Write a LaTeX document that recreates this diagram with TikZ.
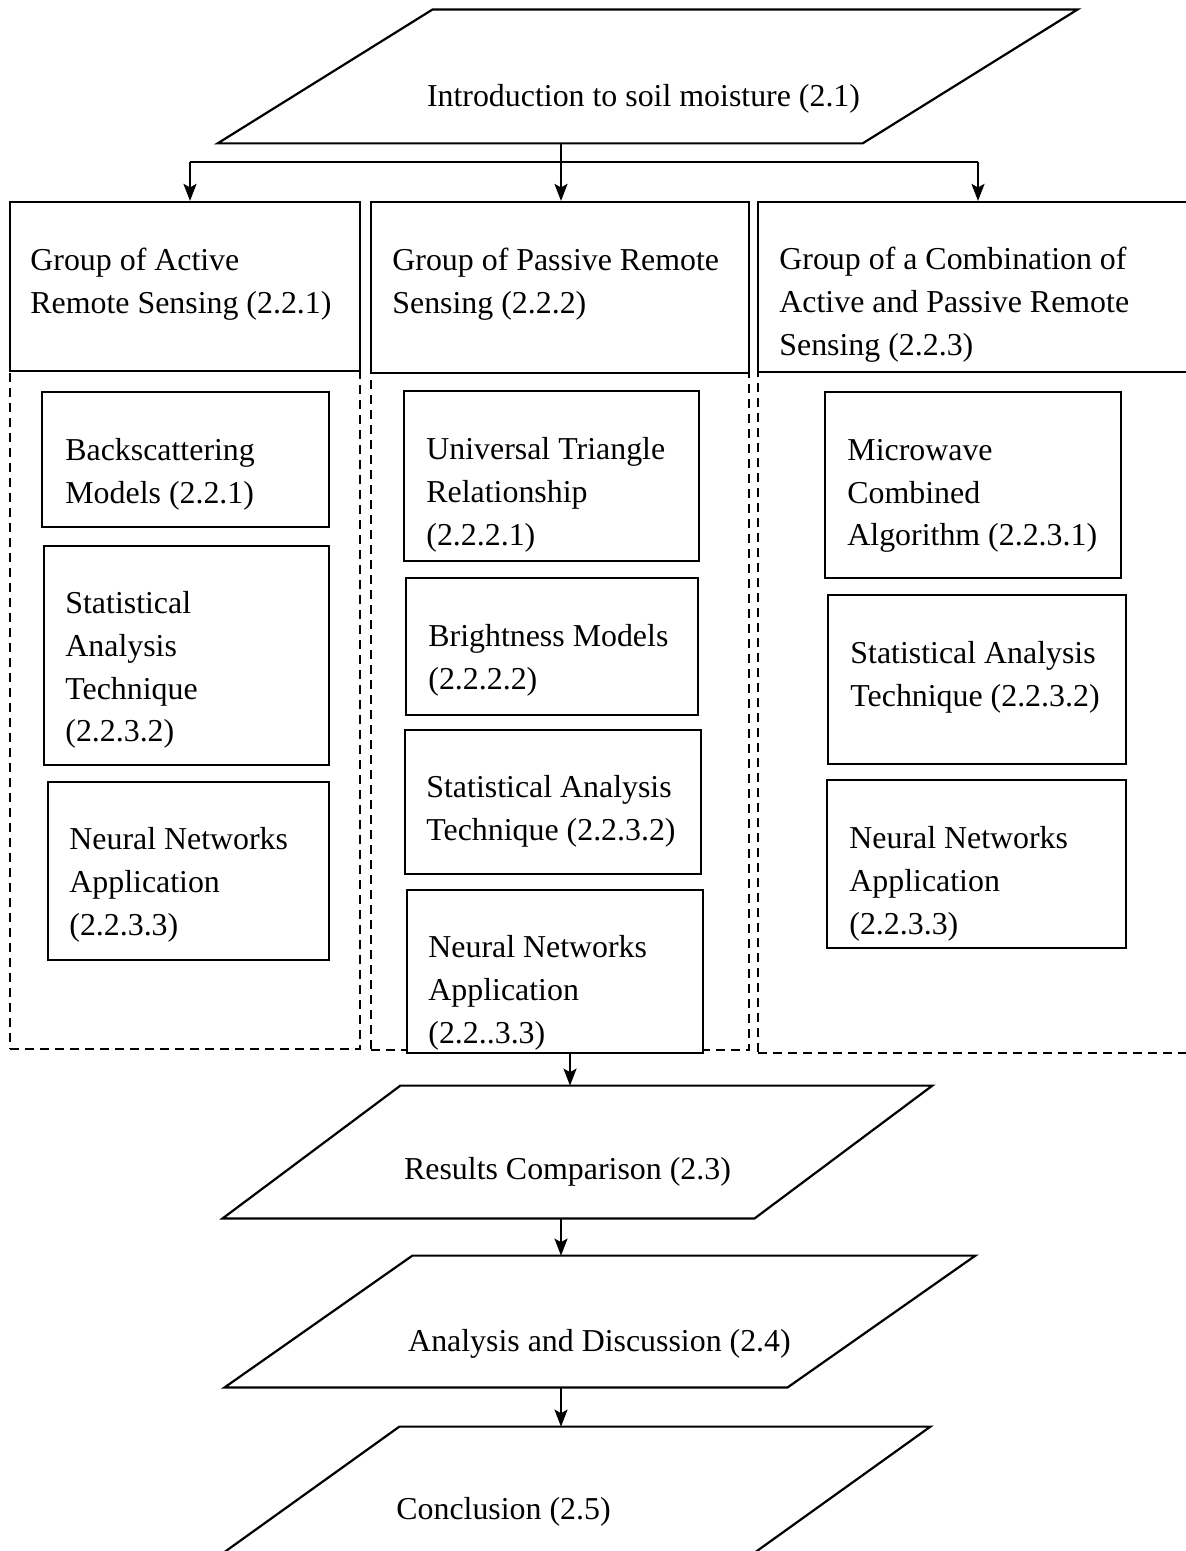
\documentclass[tikz,border=0pt]{standalone}
\usepackage{fontspec}
\setmainfont{Liberation Serif}
\usetikzlibrary{fit,arrows.meta}
\tikzset{
  pline/.style={line width=1.1pt, line join=miter},
  grp/.style={draw, line width=1.1pt, inner sep=0pt},
  dbox/.style={draw, line width=1.1pt, dash pattern=on 4.5pt off 3pt, inner sep=0pt},
  box/.style={draw, line width=1.1pt, fill=white, inner sep=0pt},
  para/.style={inner sep=0pt},
  txt/.style={anchor=west, align=left, inner sep=0pt, yshift=-2pt, font=\fontsize{15.94pt}{21.4pt}\selectfont},
  ctxt/.style={anchor=center, inner sep=0pt, yshift=-2pt, font=\fontsize{15.94pt}{21.4pt}\selectfont},
  arr/.style={line width=1.1pt, -{Stealth[length=8.5pt, width=6.5pt, inset=1.8pt]}},
}
\begin{document}
\begin{tikzpicture}[x=0.5pt, y=-0.5pt]
\useasboundingbox (0,0) rectangle (1186,1551);
\fill[white] (0,0) rectangle (1186,1551);

% top parallelogram
\node[para, fit={(218,10) (1077,143)}] (intro) {};
\draw[pline] (intro.south west) -- ++(645,0) -- (intro.north east) -- ++(-645,0) -- cycle;
\node[ctxt] (introt) at (643.5,95) {Introduction to soil moisture (2.1)};

% group header boxes
\node[grp, fit={(10,202) (360,371)}] (g1) {};
\node[grp, fit={(371,202) (749,373)}] (g2) {};
\node[grp, fit={(758,202) (1192,372)}] (g3) {};
\node[txt] (g1t) at (30,280.5) {Group of Active\\Remote Sensing (2.2.1)};
\node[txt] (g2t) at (392,280.5) {Group of Passive Remote\\Sensing (2.2.2)};
\node[txt] (g3t) at (779,301) {Group of a Combination of\\Active and Passive Remote\\Sensing (2.2.3)};

% dashed containers
\node[dbox, fit={(10,371) (360,1049)}] (d1) {};
\node[dbox, fit={(371,373) (749,1050)}] (d2) {};
\node[dbox, fit={(758,372) (1192,1053)}] (d3) {};

% column 1
\node[box, fit={(42,392) (329,527)}] (a1) {};
\node[txt] (a1t) at (65,470.5) {Backscattering\\Models (2.2.1)};
\node[box, fit={(44,546) (329,765)}] (a2) {};
\node[txt] (a2t) at (65,666) {Statistical\\Analysis\\Technique\\(2.2.3.2)};
\node[box, fit={(48,782) (329,960)}] (a3) {};
\node[txt] (a3t) at (69,881) {Neural Networks\\Application\\(2.2.3.3)};

% column 2
\node[box, fit={(404,391) (699,561)}] (p1) {};
\node[txt] (p1t) at (426,491) {Universal Triangle\\Relationship\\(2.2.2.1)};
\node[box, fit={(406,578) (698,715)}] (p2) {};
\node[txt] (p2t) at (428,656) {Brightness Models\\(2.2.2.2)};
\node[box, fit={(405,730) (701,874)}] (p3) {};
\node[txt] (p3t) at (426,807.5) {Statistical Analysis\\Technique (2.2.3.2)};
\node[box, fit={(407,890) (703,1053)}] (n2) {};
\node[txt] (n2t) at (428,989) {Neural Networks\\Application\\(2.2..3.3)};

% column 3
\node[box, fit={(825,392) (1121,578)}] (c1) {};
\node[txt] (c1t) at (847,492) {Microwave\\Combined\\Algorithm (2.2.3.1)};
\node[box, fit={(828,595) (1126,764)}] (c2) {};
\node[txt] (c2t) at (850,673) {Statistical Analysis\\Technique (2.2.3.2)};
\node[box, fit={(827,780) (1126,948)}] (c3) {};
\node[txt] (c3t) at (849,880) {Neural Networks\\Application\\(2.2.3.3)};

% lower parallelograms
\node[para, fit={(223,1086) (932,1218)}] (res) {};
\draw[pline] (res.south west) -- ++(532,0) -- (res.north east) -- ++(-532,0) -- cycle;
\node[ctxt] (rest) at (567.5,1168) {Results Comparison (2.3)};

\node[para, fit={(225,1256) (975,1387)}] (ana) {};
\draw[pline] (ana.south west) -- ++(563,0) -- (ana.north east) -- ++(-563,0) -- cycle;
\node[ctxt] (anat) at (599.5,1340) {Analysis and Discussion (2.4)};

\node[para, fit={(216,1427) (930,1558)}] (con) {};
\draw[pline] (con.south west) -- ++(531,0) -- (con.north east) -- ++(-531,0) -- cycle;
\node[ctxt] (cont) at (503.5,1508) {Conclusion (2.5)};

% connectors
\coordinate (hl) at (190,162);
\coordinate (hr) at (978,162);
\coordinate (mid) at (561,0);
\draw[arr] (intro.south -| mid) -- (g2.north -| mid);
\draw[pline] (hl) -- (hr);
\draw[arr] (hl) -- (hl |- g1.north);
\draw[arr] (hr) -- (hr |- g3.north);
\draw[arr] ([xshift=7.5pt]n2.south) -- ([xshift=7.5pt]n2.south |- res.north);
\draw[arr] (res.south -| mid) -- (ana.north -| mid);
\draw[arr] (ana.south -| mid) -- (con.north -| mid);
\end{tikzpicture}
\end{document}
